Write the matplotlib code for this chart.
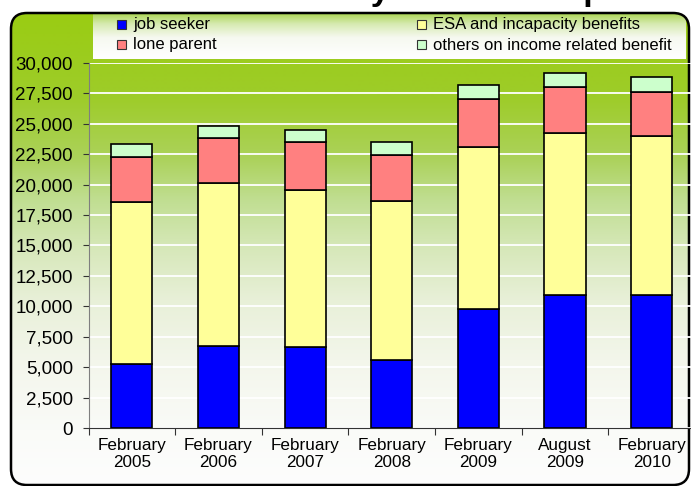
import numpy as np
import matplotlib.pyplot as plt
from matplotlib.patches import FancyBboxPatch, Rectangle
from matplotlib.ticker import FuncFormatter

plt.rcParams['font.family'] = ['Liberation Sans', 'DejaVu Sans']

# data
months = ["February\n2005", "February\n2006", "February\n2007", "February\n2008",
          "February\n2009", "August\n2009", "February\n2010"]
job_seeker = [5230, 6740, 6630, 5560, 9750, 10900, 10900]
esa_incapacity = [13320, 13370, 12960, 13100, 13320, 13370, 13100]
lone_parent = [3750, 3750, 3890, 3810, 3940, 3760, 3640]
others = [1070, 940, 1040, 1040, 1160, 1170, 1180]

series = [
    ("job seeker", job_seeker, "#0000FF"),
    ("ESA and incapacity benefits", esa_incapacity, "#FFFF99"),
    ("lone parent", lone_parent, "#FF8080"),
    ("others on income related benefit", others, "#CCFFCC"),
]

W, H = 691, 486
fig = plt.figure(figsize=(W / 100, H / 100), dpi=100)

# background layer in pixel coordinates (y pointing down)
bg = fig.add_axes([0, 0, 1, 1], zorder=0)
bg.axis('off')

frame = FancyBboxPatch((11, 13), 678, 472, boxstyle="round,pad=0,rounding_size=16",
                       facecolor='none', edgecolor='black', lw=1.8, zorder=5)
bg.add_patch(frame)

# green -> white vertical gradient inside the frame
stops_y = [13, 100, 160, 200, 250, 300, 360, 430, 486]
stops_c = [(154, 204, 18), (158, 204, 42), (172, 210, 92), (192, 222, 145),
           (215, 232, 186), (232, 240, 216), (243, 246, 235), (250, 251, 248),
           (253, 253, 253)]
rows = np.arange(H) + 0.5
grad = np.stack([np.interp(rows, stops_y, [c[i] for c in stops_c]) for i in range(3)], axis=-1) / 255
img = bg.imshow(grad[:, None, :], extent=(0, W, H, 0), aspect='auto', zorder=0,
                interpolation='bilinear')
img.set_clip_path(frame)

# legend box gradient
ly = np.arange(13, 60) + 0.5
lstops_y = [13, 24, 38, 59]
lstops_c = [(170, 212, 80), (214, 234, 176), (246, 249, 240), (255, 255, 255)]
lgrad = np.stack([np.interp(ly, lstops_y, [c[i] for c in lstops_c]) for i in range(3)], axis=-1) / 255
limg = bg.imshow(lgrad[:, None, :], extent=(93, 686, 59, 13), aspect='auto', zorder=1,
                 interpolation='bilinear')
limg.set_clip_path(frame)

bg.set_xlim(0, W)
bg.set_ylim(H, 0)

# legend entries
legend_pos = [(117, 29.5), (417, 29.5), (117, 49.5), (417, 49.5)]
for (name, vals, color), (lx, lyb) in zip(series, legend_pos):
    bg.add_patch(Rectangle((lx, lyb - 9), 9, 9, facecolor=color, edgecolor='#333333',
                           lw=0.8, zorder=6))
    bg.text(lx + 16, lyb, name, fontsize=12, va='baseline', ha='left', zorder=6)

# title, cut off at the top of the image (only descenders show)
bg.text(179, -0.3, "Claimants by Client Group", fontsize=24.4, fontweight='bold',
        va='baseline', ha='left', zorder=6)

# main chart
ax = fig.add_axes([88.6 / W, 1 - 428 / H, (695 - 88.6) / W, (428 - 63) / H], zorder=2)
ax.patch.set_alpha(0)

x = np.arange(len(months))
bottom = np.zeros(len(months))
for name, vals, color in series:
    ax.bar(x, vals, width=0.475, bottom=bottom, color=color, edgecolor='black',
           linewidth=1.2, zorder=3)
    bottom += np.array(vals)

ax.set_xlim(-0.5, len(months) - 0.5)
ax.set_ylim(0, 30000)
ax.set_yticks(np.arange(0, 30001, 2500))
ax.yaxis.set_major_formatter(FuncFormatter(lambda v, p: f"{v:,.0f}"))
ax.yaxis.grid(True, color='white', lw=1.3)
ax.set_axisbelow(True)

ax.set_xticks(np.arange(-0.5, len(months), 1))
ax.set_xticklabels([])
ax.set_xticks(x, minor=True)
ax.set_xticklabels(months, minor=True)
ax.tick_params(axis='x', which='major', direction='out', length=5, color='#333333')
ax.tick_params(axis='x', which='minor', length=0, labelsize=12.3, pad=7)
ax.tick_params(axis='y', direction='out', length=4.3, pad=7, labelsize=13.5, color='#333333')

for s in ['top', 'right']:
    ax.spines[s].set_visible(False)
ax.spines['left'].set_color('#7f7f7f')
ax.spines['bottom'].set_color('#333333')

fig.savefig("out.png", dpi=100)
